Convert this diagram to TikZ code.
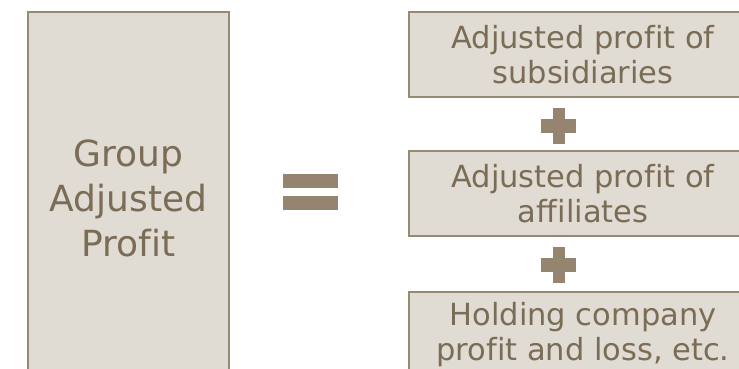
\documentclass[tikz,border=0pt]{standalone}
\usepackage{fontspec}
\setmainfont[Ligatures=NoCommon]{DejaVu Sans}
\usetikzlibrary{positioning}
\definecolor{boxfill}{HTML}{E0DBD3}
\definecolor{boxline}{HTML}{968A72}
\definecolor{signfill}{HTML}{958570}
\definecolor{textcol}{HTML}{7A6C55}
\tikzset{
  termbox/.style={draw=boxline, fill=boxfill, line width=1.3pt, text=textcol,
    align=center, inner sep=0pt, minimum width=348pt, minimum height=85pt,
    font=\fontsize{30.5}{35.5}\selectfont},
  sign/.style={fill=signfill, draw=none}
}
\begin{document}
\begin{tikzpicture}[x=1pt, y=-1pt]
    \useasboundingbox (0,0) rectangle (739,369);
    \clip (0,0) rectangle (739,369);

    % Left side
    \node[termbox, minimum width=201pt, minimum height=372pt,
      font=\fontsize{36}{45}\selectfont] (group) at (128.5,198) {Group\\Adjusted\\Profit};

    % Equals sign
    \fill[sign] (283,174) rectangle (338,188);
    \fill[sign] (283,196) rectangle (338,210);

    % Right side terms
    \node[termbox] (subs) at (583,54.5) {Adjusted profit of\\subsidiaries};
    \node[termbox] (affil) at (583,193.5) {Adjusted profit of\\affiliates};
    \node[termbox] (hold) at (583,334.5) {Holding company\\profit and loss, etc.};

    % Plus signs
    \foreach \py in {126,265} {
      \fill[sign] (541,\py-7) rectangle (576,\py+7);
      \fill[sign] (552.5,\py-18) rectangle (564.5,\py+18);
    }
\end{tikzpicture}
\end{document}
